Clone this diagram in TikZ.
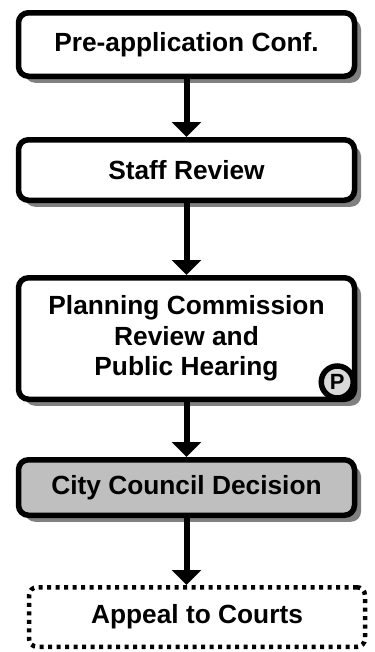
\documentclass[tikz,border=0pt]{standalone}
\usepackage{fontspec}
\setmainfont{Liberation Sans}
\usetikzlibrary{shapes,arrows.meta,positioning,calc,shadows}
\tikzset{
  stp/.style={rectangle,draw,line width=5.5bp,rounded corners=10bp,fill=white,minimum width=336bp,align=center,font=\bfseries\fontsize{26.3bp}{30.6bp}\selectfont,drop shadow={shadow xshift=6.5bp,shadow yshift=-6.5bp,fill=black!50,opacity=1}},
  dec/.style={stp,fill=black!25},
  apl/.style={rectangle,draw,line width=4.5bp,dash pattern=on 4bp off 4.5bp,rounded corners=8bp,minimum width=336bp,minimum height=59.5bp,align=center,font=\bfseries\fontsize{26.3bp}{30.6bp}\selectfont},
  arr/.style={-{Triangle[width=29bp,length=15bp]},line width=6bp},
  pin/.style={circle,draw,line width=5.5bp,fill=black!15,minimum size=32bp,inner sep=0pt,font=\bfseries\fontsize{22bp}{22bp}\selectfont},
}
\begin{document}
\begin{tikzpicture}
  \useasboundingbox (0,0) rectangle (375bp,-652bp);
  \node[stp,minimum height=63.5bp] (pa) at (186.5bp,-44.5bp) {Pre-application Conf.};
  \node[stp,minimum height=60.5bp,below=58bp of pa] (sr) {Staff Review};
  \node[stp,minimum height=121.5bp,below=72bp of sr] (pc) {Planning Commission\\Review and\\Public Hearing};
  \node[pin] (pp) at ($(pc.south east)+(-20bp,20bp)$) {P};
  \node[dec,minimum height=55.5bp,below=55bp of pc] (cc) {City Council Decision};
  \node[apl,below=67bp of cc,xshift=10.5bp] (ac) {Appeal to Courts};
  % connectors
  \draw[arr] (pa.south) -- (sr.north);
  \draw[arr] (sr.south) -- (pc.north);
  \draw[arr] (pc.south) -- (cc.north);
  \draw[arr] (cc.south) -- (cc.south |- ac.north);
\end{tikzpicture}
\end{document}
